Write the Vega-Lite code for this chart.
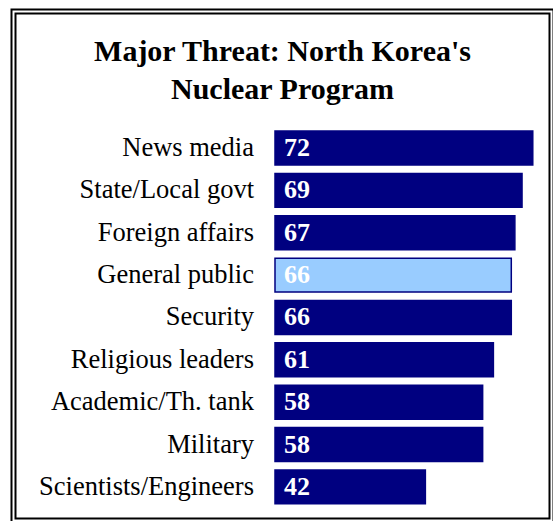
{
  "$schema": "https://vega.github.io/schema/vega-lite/v6.json",
  "width": 538,
  "height": 509,
  "autosize": {"type": "none"},
  "padding": {"left": 13.5, "top": 11.5, "right": 1.5, "bottom": 0.5},
  "background": "white",
  "config": {"view": {"stroke": null}, "font": "Liberation Serif"},
  "title": {
    "text": ["Major Threat: North Korea's", "Nuclear Program"],
    "font": "Liberation Serif",
    "fontSize": 30,
    "fontWeight": "bold",
    "color": "black",
    "anchor": "middle",
    "frame": "group",
    "offset": -96,
    "lineHeight": 38
  },
  "data": {
    "values": [
      {"group": "News media", "pct": 72},
      {"group": "State/Local govt", "pct": 69},
      {"group": "Foreign affairs", "pct": 67},
      {"group": "General public", "pct": 66},
      {"group": "Security", "pct": 66},
      {"group": "Religious leaders", "pct": 61},
      {"group": "Academic/Th. tank", "pct": 58},
      {"group": "Military", "pct": 58},
      {"group": "Scientists/Engineers", "pct": 42}
    ]
  },
  "layer": [
    {
      "data": {"values": [{}]},
      "mark": {"type": "rect", "fill": null, "stroke": "black", "strokeWidth": 6},
      "encoding": {"x": {"value": 0}, "x2": {"value": "width"}, "y": {"value": 0}, "y2": {"value": "height"}}
    },
    {
      "data": {"values": [{}]},
      "mark": {"type": "rect", "fill": null, "stroke": "white", "strokeWidth": 2},
      "encoding": {"x": {"value": 0}, "x2": {"value": "width"}, "y": {"value": 0}, "y2": {"value": "height"}}
    },
    {
      "mark": {"type": "bar", "stroke": "#000080", "strokeWidth": 1.5},
      "encoding": {
        "x": {"field": "pct", "type": "quantitative", "scale": {"domain": [-73.04, 77.23], "nice": false, "zero": false}, "axis": null},
        "x2": {"datum": 0},
        "y": {
          "field": "group", "type": "nominal", "sort": null,
          "scale": {"range": [115.3, 496.6], "paddingInner": 0.2, "paddingOuter": 0.1},
          "axis": {"title": null, "orient": "left", "offset": -240, "ticks": false, "domain": false, "labelPadding": 0, "labelFont": "Liberation Serif", "labelFontSize": 26.5, "labelColor": "black", "labelAlign": "right", "labelBaseline": "middle", "labelLimit": 0}
        },
        "fill": {"condition": {"test": "datum.group === 'General public'", "value": "#99CCFF"}, "value": "#000080"}
      }
    },
    {
      "mark": {"type": "text", "align": "left", "baseline": "middle", "dx": 9, "fontWeight": "bold", "fontSize": 26, "font": "Liberation Serif", "color": "white"},
      "encoding": {
        "x": {"datum": 0},
        "y": {"field": "group", "type": "nominal", "sort": null},
        "text": {"field": "pct", "type": "quantitative"}
      }
    }
  ]
}
